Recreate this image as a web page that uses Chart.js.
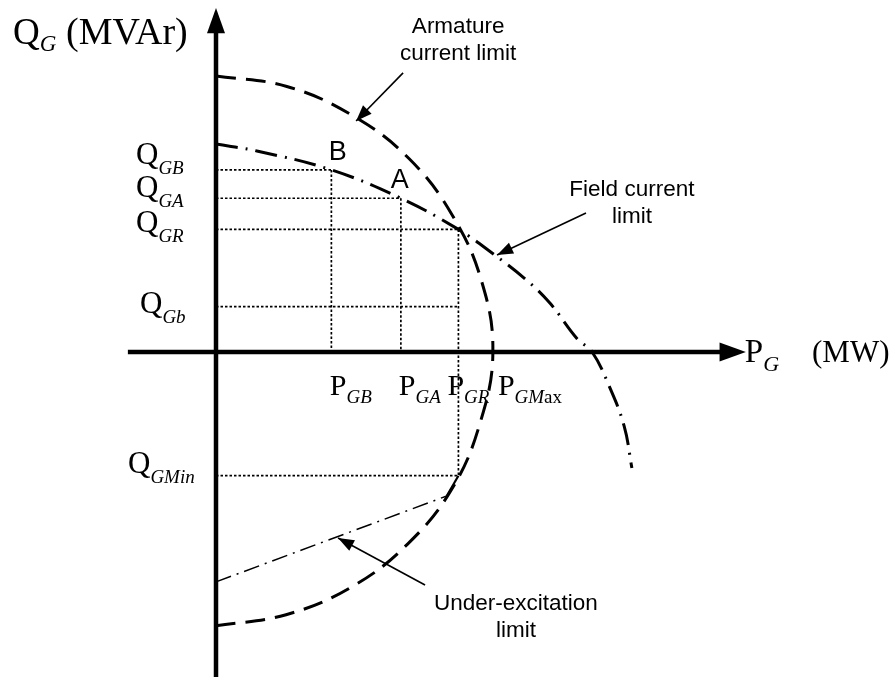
<!DOCTYPE html>
<html>
<head>
<meta charset="utf-8">
<title>Generator capability curve</title>
<script src="https://cdn.jsdelivr.net/npm/chart.js@4.4.1/dist/chart.umd.min.js"></script>
<style>
  html, body { margin: 0; padding: 0; background: #fff; }
  #wrap { width: 889px; height: 680px; }
</style>
</head>
<body>
<div id="wrap"><canvas id="chart" width="889" height="680"></canvas></div>
<script>
// Operating points B, A and R on the field current limit (MW, MVAr)
const opNames = ['GB', 'GA', 'GR'];
const opP = [41.5, 66.5, 87.2];
const opQ = [65.5, 55.3, 44.1];
const qGb = 16.3;
const qGMin = -44.5;
const pGMax = 99.6;

// Armature current limit (stator heating circle)
const armatureP = [0, 25.5, 49.2, 69.5, 85.0, 95.5, 99.6, 95.0, 85.0, 69.0, 48.8, 25.2, 0];
const armatureQ = [99.3, 95.5, 85.0, 69.5, 49.2, 25.6, 0, -25.5, -49.0, -69.0, -84.5, -94.5, -98.5];

// Field current limit (rotor heating)
const fieldP = [0, 14.7, 41.5, 66.5, 87.2, 99.3, 111.2, 120.1, 129.9, 135.3, 141.4, 146.8, 149.6];
const fieldQ = [74.8, 72.3, 65.5, 55.3, 44.1, 35.6, 26.3, 17.6, 4.8, 0, -12.2, -26.6, -41.7];

// Under-excitation limit
const underP = [0, 83.0, 87.2];
const underQ = [-82.7, -51.8, -44.5];

// Axis extents
const axisP = [-31.7, 181.5];
const axisQ = [-116.9, 115.0];
const arrowTipP = 190.6;
const arrowTipQ = 123.7;

const toXY = (xs, ys) => xs.map((x, i) => ({ x, y: ys[i] }));

const datasets = [];
const BLACK = '#000';

// axes
datasets.push({ data: toXY(axisP, [0, 0]), borderWidth: 4.5, tension: 0 });
datasets.push({ data: toXY([0, 0], axisQ), borderWidth: 4.5, tension: 0 });

// dotted guides for the operating points
const dotted = (pts) => ({ data: pts, borderWidth: 1.7, borderDash: [2.5, 2], tension: 0 });
opP.forEach((p, i) => {
  datasets.push(dotted([{ x: 0, y: opQ[i] }, { x: p, y: opQ[i] }]));
  const bottom = opNames[i] === 'GR' ? qGMin : 0;
  datasets.push(dotted([{ x: p, y: opQ[i] }, { x: p, y: bottom }]));
});
datasets.push(dotted([{ x: 0, y: qGb }, { x: opP[2], y: qGb }]));
datasets.push(dotted([{ x: 0, y: qGMin }, { x: opP[2], y: qGMin }]));

// limit curves
datasets.push({ data: toXY(armatureP, armatureQ), borderWidth: 3, borderDash: [20, 10], tension: 0.4 });
datasets.push({ data: toXY(fieldP, fieldQ), borderWidth: 3, borderDash: [22, 8, 2, 8], tension: 0.4 });
datasets.push({
  data: toXY(underP, underQ), borderWidth: 1.5, borderDash: [16, 6, 2, 6], tension: 0,
  segment: {
    borderDash: c => (c.p1DataIndex === 2 ? [] : undefined),
    borderWidth: c => (c.p1DataIndex === 2 ? 2.2 : undefined)
  }
});

datasets.forEach(d => {
  d.showLine = true;
  d.pointRadius = 0;
  d.pointHoverRadius = 0;
  d.borderColor = BLACK;
  d.borderCapStyle = 'butt';
  d.fill = false;
});

const SERIF = '"Liberation Serif", "Times New Roman", serif';
const SANS = '"Liberation Sans", Arial, sans-serif';

function subLabel(ctx, x, y, main, parts, mainSize, subSize, drop) {
  ctx.font = mainSize + 'px ' + SERIF;
  ctx.fillText(main, x, y);
  let cx = x + ctx.measureText(main).width;
  parts.forEach(([txt, italic]) => {
    ctx.font = (italic ? 'italic ' : '') + subSize + 'px ' + SERIF;
    ctx.fillText(txt, cx, y + drop);
    cx += ctx.measureText(txt).width;
  });
  return cx;
}

function arrowHead(ctx, x0, y0, x1, y1, len, half) {
  const a = Math.atan2(y1 - y0, x1 - x0);
  ctx.beginPath();
  ctx.moveTo(x1, y1);
  ctx.lineTo(x1 - len * Math.cos(a) + half * Math.sin(a), y1 - len * Math.sin(a) - half * Math.cos(a));
  ctx.lineTo(x1 - len * Math.cos(a) - half * Math.sin(a), y1 - len * Math.sin(a) + half * Math.cos(a));
  ctx.closePath();
  ctx.fill();
}

// callouts: text lines, text centre (P, Q of first baseline), arrow start, arrow tip
const callouts = [
  { lines: ['Armature', 'current limit'], at: [87.1, 114.7], from: [67.3, 100.4], to: [50.4, 83.1] },
  { lines: ['Field current', 'limit'], at: [149.6, 56.1], from: [133.1, 50.0], to: [101.1, 34.9] },
  { lines: ['Under-excitation', 'limit'], at: [107.9, -92.8], from: [75.2, -83.8], to: [43.9, -66.9] }
];

const annotate = {
  id: 'annotate',
  afterDatasetsDraw(chart) {
    const ctx = chart.ctx;
    const xs = chart.scales.x, ys = chart.scales.y;
    const X = v => xs.getPixelForValue(v);
    const Y = v => ys.getPixelForValue(v);
    ctx.save();
    ctx.fillStyle = BLACK;
    ctx.strokeStyle = BLACK;
    ctx.textBaseline = 'alphabetic';

    // axis arrowheads
    arrowHead(ctx, X(axisP[0]), Y(0), X(arrowTipP), Y(0), X(arrowTipP) - X(axisP[1]) + 1, 9.5);
    arrowHead(ctx, X(0), Y(axisQ[0]), X(0), Y(arrowTipQ), Y(axisQ[1]) - Y(arrowTipQ) + 1, 9);

    // axis titles
    ctx.textAlign = 'left';
    subLabel(ctx, 13, 44, 'Q', [['G', true]], 37, 23, 7);
    ctx.font = '38px ' + SERIF;
    ctx.fillText('(MVAr)', 66, 44);
    subLabel(ctx, X(arrowTipP) - 1, Y(0) + 10, 'P', [['G', true]], 33, 22, 9);
    ctx.font = '31px ' + SERIF;
    ctx.fillText('(MW)', 812, Y(0) + 10);

    // Q axis labels
    const x0 = X(0);
    const qLabels = [
      [opQ[0], 'GB', -6, 0], [opQ[1], 'GA', -1, 0], [opQ[2], 'GR', 3, 0],
      [qGb, 'Gb', 6, 4], [qGMin, 'GMin', -3, -8]
    ];
    qLabels.forEach(([q, s, dy, dx]) => {
      subLabel(ctx, x0 - 80 + dx, Y(q) + dy, 'Q', [[s, true]], 31, 19, 10);
    });

    // P axis labels
    const yb = Y(0) + 43;
    subLabel(ctx, X(opP[0]) - 1.5, yb, 'P', [['GB', true]], 30, 19, 8);
    subLabel(ctx, X(opP[1]) - 2, yb, 'P', [['GA', true]], 30, 19, 8);
    subLabel(ctx, X(opP[2]) - 11, yb, 'P', [['GR', true]], 30, 19, 8);
    subLabel(ctx, X(pGMax) + 5, yb, 'P', [['GM', true], ['ax', false]], 30, 19, 8);

    // point markers A and B
    ctx.textAlign = 'center';
    ctx.font = '27px ' + SANS;
    ctx.fillText('B', X(opP[0]) + 6.5, Y(opQ[0]) - 10);
    ctx.fillText('A', X(opP[1]) - 1, Y(opQ[1]) - 10);

    // callouts
    ctx.font = '22.5px ' + SANS;
    ctx.lineWidth = 1.6;
    callouts.forEach(c => {
      c.lines.forEach((t, i) => ctx.fillText(t, X(c.at[0]), Y(c.at[1]) + i * 27));
      const x1 = X(c.from[0]), y1 = Y(c.from[1]), x2 = X(c.to[0]), y2 = Y(c.to[1]);
      ctx.beginPath();
      ctx.moveTo(x1, y1);
      ctx.lineTo(x2, y2);
      ctx.stroke();
      arrowHead(ctx, x1, y1, x2, y2, 16, 6);
    });
    ctx.restore();
  }
};

new Chart(document.getElementById('chart'), {
  type: 'scatter',
  data: { datasets },
  options: {
    responsive: false,
    animation: false,
    devicePixelRatio: 1,
    layout: { padding: 0 },
    plugins: { legend: { display: false }, tooltip: { enabled: false }, title: { display: false } },
    scales: {
      x: { type: 'linear', min: -77.7, max: 242.09, display: false },
      y: { type: 'linear', min: -117.99, max: 126.62, display: false }
    }
  },
  plugins: [annotate]
});
</script>
</body>
</html>
